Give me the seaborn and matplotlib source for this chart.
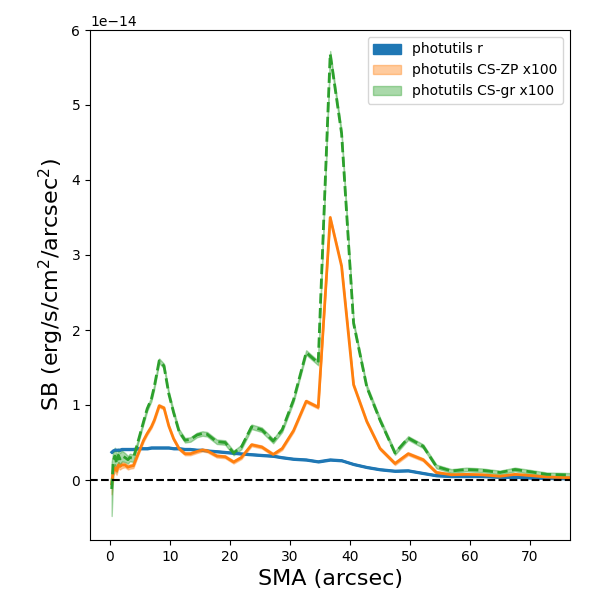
import numpy as np
import matplotlib
matplotlib.use("Agg")
import matplotlib.pyplot as plt
import seaborn as sns

SCALE = 1e-14

sma = [0.28, 0.55, 0.83, 1.1, 1.4, 1.67, 2.0, 2.5, 3.0, 3.3, 3.9, 4.7, 5.6, 6.2,
       6.9, 7.4, 8.2, 9.0, 9.8, 10.6, 11.5, 12.5, 13.4, 14.5, 15.4, 16.2, 17.8,
       19.2, 20.6, 21.9, 23.6, 25.3, 27.2, 28.7, 30.6, 32.7, 34.7, 36.7, 38.6,
       40.6, 42.8, 45.0, 47.5, 49.7, 52.2, 54.4, 56.9, 59.4, 61.9, 65.0, 67.5,
       70.0, 72.8, 76.7, 78.5]

sb_r = [0.37, 0.39, 0.40, 0.40, 0.40, 0.40, 0.41, 0.41, 0.41, 0.41, 0.41, 0.42,
        0.42, 0.42, 0.43, 0.43, 0.43, 0.43, 0.43, 0.42, 0.42, 0.41, 0.41, 0.40,
        0.40, 0.39, 0.38, 0.37, 0.36, 0.35, 0.34, 0.33, 0.32, 0.30, 0.28, 0.27,
        0.245, 0.27, 0.26, 0.21, 0.17, 0.14, 0.12, 0.125, 0.09, 0.06, 0.05, 0.05,
        0.05, 0.04, 0.04, 0.03, 0.025, 0.02, 0.02]
err_r = [0.01] * len(sma)

sb_zp = [-0.05, 0.12, 0.16, 0.12, 0.20, 0.18, 0.20, 0.20, 0.17, 0.18, 0.19, 0.35,
         0.53, 0.62, 0.71, 0.80, 0.99, 0.96, 0.72, 0.55, 0.42, 0.35, 0.35, 0.38,
         0.40, 0.39, 0.32, 0.31, 0.24, 0.30, 0.47, 0.44, 0.34, 0.42, 0.66, 1.05,
         0.97, 3.50, 2.85, 1.27, 0.78, 0.42, 0.22, 0.35, 0.27, 0.10, 0.07, 0.075,
         0.07, 0.05, 0.075, 0.06, 0.04, 0.03, 0.03]
err_zp = [0.14, 0.06, 0.05, 0.05, 0.04, 0.04, 0.04, 0.03, 0.03, 0.03, 0.03, 0.02,
          0.02, 0.02, 0.02, 0.02, 0.02, 0.02, 0.02, 0.02, 0.02, 0.02, 0.02, 0.02,
          0.02, 0.02, 0.02, 0.02, 0.02, 0.02, 0.02, 0.02, 0.02, 0.02, 0.02, 0.02,
          0.02, 0.02, 0.02, 0.02, 0.02, 0.02, 0.02, 0.02, 0.02, 0.02, 0.015, 0.015,
          0.015, 0.015, 0.015, 0.015, 0.015, 0.015, 0.015]

sb_gr = [-0.12, 0.25, 0.32, 0.22, 0.33, 0.28, 0.32, 0.30, 0.27, 0.30, 0.29, 0.52,
         0.78, 0.95, 1.08, 1.25, 1.59, 1.52, 1.15, 0.90, 0.65, 0.53, 0.54, 0.60,
         0.62, 0.61, 0.51, 0.50, 0.36, 0.44, 0.71, 0.67, 0.52, 0.67, 1.07, 1.70,
         1.56, 5.68, 4.62, 2.09, 1.24, 0.80, 0.36, 0.56, 0.45, 0.18, 0.12, 0.14,
         0.13, 0.10, 0.14, 0.11, 0.075, 0.067, 0.06]
err_gr = [0.36, 0.14, 0.11, 0.11, 0.09, 0.08, 0.07, 0.06, 0.05, 0.05, 0.05, 0.03,
          0.03, 0.03, 0.03, 0.03, 0.03, 0.03, 0.03, 0.03, 0.03, 0.03, 0.03, 0.03,
          0.03, 0.03, 0.03, 0.03, 0.03, 0.03, 0.03, 0.03, 0.03, 0.03, 0.03, 0.03,
          0.03, 0.04, 0.04, 0.03, 0.03, 0.03, 0.025, 0.025, 0.025, 0.025, 0.025,
          0.025, 0.025, 0.025, 0.025, 0.025, 0.025, 0.025, 0.025]

labels = ["photutils r", "photutils CS-ZP x100", "photutils CS-gr x100"]

x = np.array(sma)
fig = plt.figure(figsize=(6, 6), dpi=100)
ax = fig.add_axes([0.15, 0.10, 0.80, 0.85])

series = [
    (sb_r, err_r, "#1f77b4", "-", 1.0),
    (sb_zp, err_zp, "#ff7f0e", "-", 0.4),
    (sb_gr, err_gr, "#2ca02c", "--", 0.4),
]
handles = []
for (vals, errs, col, ls, al), lab in zip(series, labels):
    v = np.array(vals) * SCALE
    e = np.array(errs) * SCALE
    h = ax.fill_between(x, v - e, v + e, color=col, alpha=al, label=lab)
    handles.append(h)
    sns.lineplot(x=x, y=v, ax=ax, color=col, linestyle=ls, linewidth=2, legend=False)

ax.axhline(0, color="black", linestyle="--", linewidth=1.5)
ax.set_xlim(-3.33, 76.67)
ax.set_ylim(-0.8e-14, 6.0e-14)
ax.set_xlabel("SMA (arcsec)", fontsize=16)
ax.set_ylabel("SB (erg/s/cm$^2$/arcsec$^2$)", fontsize=16)
ax.legend(handles=handles, labels=labels, loc="upper right")

fig.savefig("out.png", dpi=100)
